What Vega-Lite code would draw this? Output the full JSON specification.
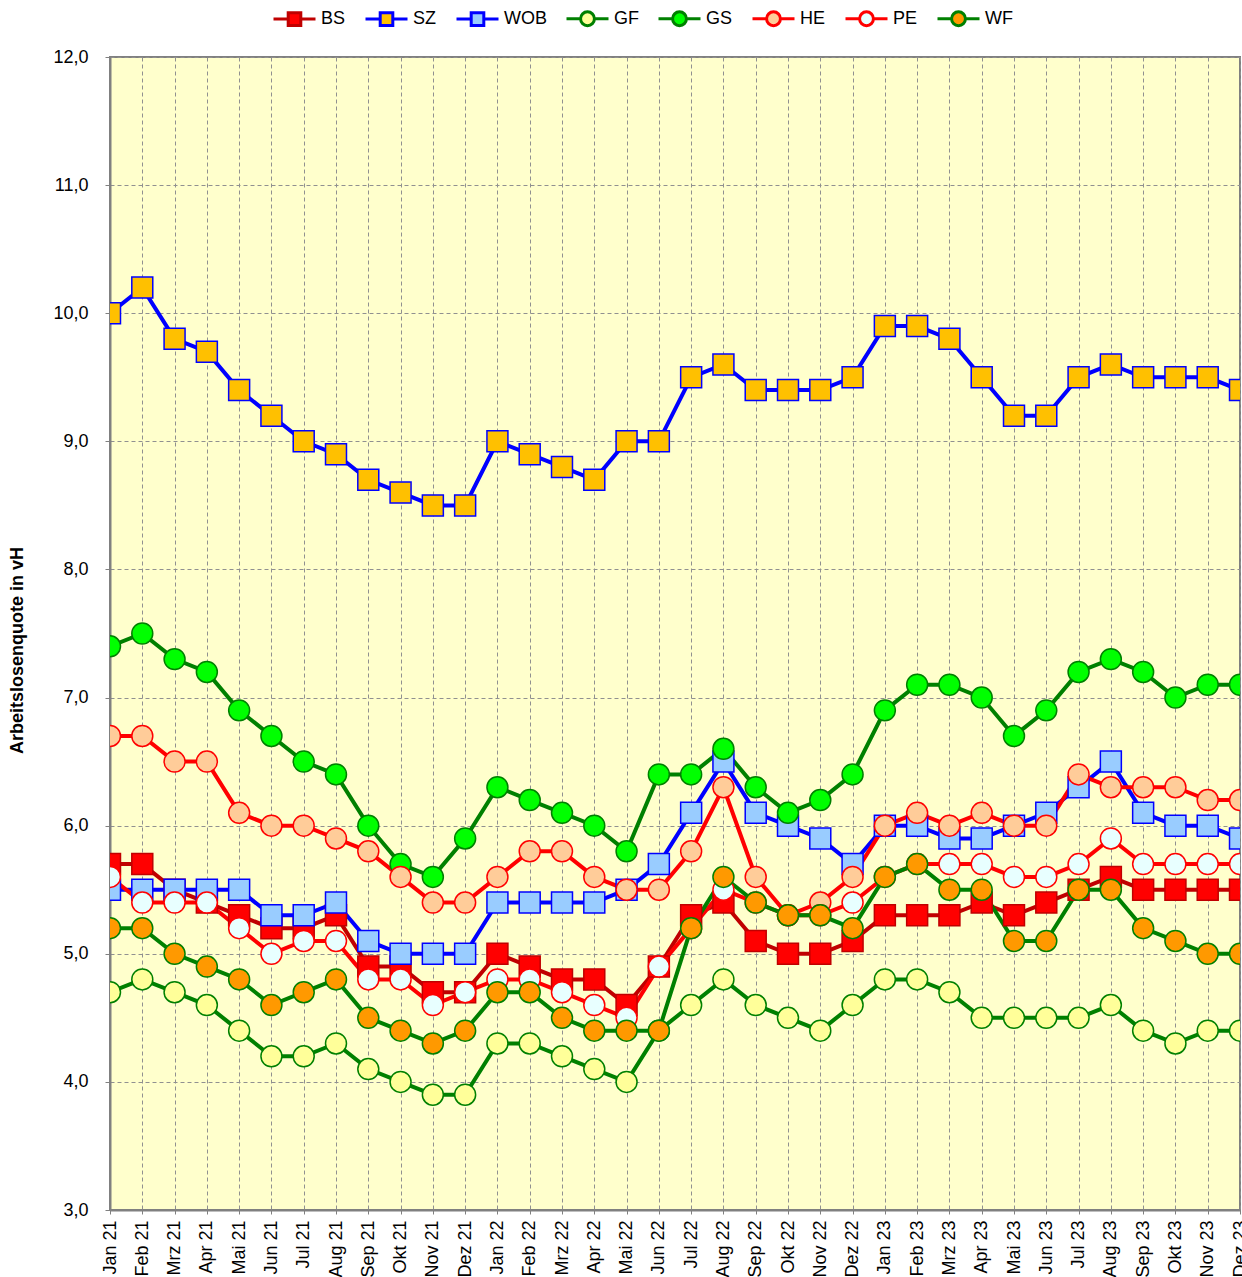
{
"$schema": "https://vega.github.io/schema/vega-lite/v6.json",
"autosize": {"type": "none"},
"width": 1130,
"height": 1153,
"padding": {"left": 110, "top": 57, "right": 2, "bottom": 67},
"background": "white",
"config": {
  "view": {"fill": "#FFFFCC", "stroke": "#808080", "strokeWidth": 2},
  "font": "Liberation Sans",
  "axis": {"labelFont": "Liberation Sans", "titleFont": "Liberation Sans", "labelColor": "black", "titleColor": "black"}
},
"datasets": {
"d": [
{"s":"BS","m":"Jan 21","v":5.7},{"s":"BS","m":"Feb 21","v":5.7},{"s":"BS","m":"Mrz 21","v":5.5},{"s":"BS","m":"Apr 21","v":5.4},{"s":"BS","m":"Mai 21","v":5.3},{"s":"BS","m":"Jun 21","v":5.2},{"s":"BS","m":"Jul 21","v":5.2},{"s":"BS","m":"Aug 21","v":5.3},{"s":"BS","m":"Sep 21","v":4.9},{"s":"BS","m":"Okt 21","v":4.9},{"s":"BS","m":"Nov 21","v":4.7},{"s":"BS","m":"Dez 21","v":4.7},
{"s":"BS","m":"Jan 22","v":5.0},{"s":"BS","m":"Feb 22","v":4.9},{"s":"BS","m":"Mrz 22","v":4.8},{"s":"BS","m":"Apr 22","v":4.8},{"s":"BS","m":"Mai 22","v":4.6},{"s":"BS","m":"Jun 22","v":4.9},{"s":"BS","m":"Jul 22","v":5.3},{"s":"BS","m":"Aug 22","v":5.4},{"s":"BS","m":"Sep 22","v":5.1},{"s":"BS","m":"Okt 22","v":5.0},{"s":"BS","m":"Nov 22","v":5.0},{"s":"BS","m":"Dez 22","v":5.1},
{"s":"BS","m":"Jan 23","v":5.3},{"s":"BS","m":"Feb 23","v":5.3},{"s":"BS","m":"Mrz 23","v":5.3},{"s":"BS","m":"Apr 23","v":5.4},{"s":"BS","m":"Mai 23","v":5.3},{"s":"BS","m":"Jun 23","v":5.4},{"s":"BS","m":"Jul 23","v":5.5},{"s":"BS","m":"Aug 23","v":5.6},{"s":"BS","m":"Sep 23","v":5.5},{"s":"BS","m":"Okt 23","v":5.5},{"s":"BS","m":"Nov 23","v":5.5},{"s":"BS","m":"Dez 23","v":5.5},
{"s":"SZ","m":"Jan 21","v":10.0},{"s":"SZ","m":"Feb 21","v":10.2},{"s":"SZ","m":"Mrz 21","v":9.8},{"s":"SZ","m":"Apr 21","v":9.7},{"s":"SZ","m":"Mai 21","v":9.4},{"s":"SZ","m":"Jun 21","v":9.2},{"s":"SZ","m":"Jul 21","v":9.0},{"s":"SZ","m":"Aug 21","v":8.9},{"s":"SZ","m":"Sep 21","v":8.7},{"s":"SZ","m":"Okt 21","v":8.6},{"s":"SZ","m":"Nov 21","v":8.5},{"s":"SZ","m":"Dez 21","v":8.5},
{"s":"SZ","m":"Jan 22","v":9.0},{"s":"SZ","m":"Feb 22","v":8.9},{"s":"SZ","m":"Mrz 22","v":8.8},{"s":"SZ","m":"Apr 22","v":8.7},{"s":"SZ","m":"Mai 22","v":9.0},{"s":"SZ","m":"Jun 22","v":9.0},{"s":"SZ","m":"Jul 22","v":9.5},{"s":"SZ","m":"Aug 22","v":9.6},{"s":"SZ","m":"Sep 22","v":9.4},{"s":"SZ","m":"Okt 22","v":9.4},{"s":"SZ","m":"Nov 22","v":9.4},{"s":"SZ","m":"Dez 22","v":9.5},
{"s":"SZ","m":"Jan 23","v":9.9},{"s":"SZ","m":"Feb 23","v":9.9},{"s":"SZ","m":"Mrz 23","v":9.8},{"s":"SZ","m":"Apr 23","v":9.5},{"s":"SZ","m":"Mai 23","v":9.2},{"s":"SZ","m":"Jun 23","v":9.2},{"s":"SZ","m":"Jul 23","v":9.5},{"s":"SZ","m":"Aug 23","v":9.6},{"s":"SZ","m":"Sep 23","v":9.5},{"s":"SZ","m":"Okt 23","v":9.5},{"s":"SZ","m":"Nov 23","v":9.5},{"s":"SZ","m":"Dez 23","v":9.4},
{"s":"WOB","m":"Jan 21","v":5.5},{"s":"WOB","m":"Feb 21","v":5.5},{"s":"WOB","m":"Mrz 21","v":5.5},{"s":"WOB","m":"Apr 21","v":5.5},{"s":"WOB","m":"Mai 21","v":5.5},{"s":"WOB","m":"Jun 21","v":5.3},{"s":"WOB","m":"Jul 21","v":5.3},{"s":"WOB","m":"Aug 21","v":5.4},{"s":"WOB","m":"Sep 21","v":5.1},{"s":"WOB","m":"Okt 21","v":5.0},{"s":"WOB","m":"Nov 21","v":5.0},{"s":"WOB","m":"Dez 21","v":5.0},
{"s":"WOB","m":"Jan 22","v":5.4},{"s":"WOB","m":"Feb 22","v":5.4},{"s":"WOB","m":"Mrz 22","v":5.4},{"s":"WOB","m":"Apr 22","v":5.4},{"s":"WOB","m":"Mai 22","v":5.5},{"s":"WOB","m":"Jun 22","v":5.7},{"s":"WOB","m":"Jul 22","v":6.1},{"s":"WOB","m":"Aug 22","v":6.5},{"s":"WOB","m":"Sep 22","v":6.1},{"s":"WOB","m":"Okt 22","v":6.0},{"s":"WOB","m":"Nov 22","v":5.9},{"s":"WOB","m":"Dez 22","v":5.7},
{"s":"WOB","m":"Jan 23","v":6.0},{"s":"WOB","m":"Feb 23","v":6.0},{"s":"WOB","m":"Mrz 23","v":5.9},{"s":"WOB","m":"Apr 23","v":5.9},{"s":"WOB","m":"Mai 23","v":6.0},{"s":"WOB","m":"Jun 23","v":6.1},{"s":"WOB","m":"Jul 23","v":6.3},{"s":"WOB","m":"Aug 23","v":6.5},{"s":"WOB","m":"Sep 23","v":6.1},{"s":"WOB","m":"Okt 23","v":6.0},{"s":"WOB","m":"Nov 23","v":6.0},{"s":"WOB","m":"Dez 23","v":5.9},
{"s":"GF","m":"Jan 21","v":4.7},{"s":"GF","m":"Feb 21","v":4.8},{"s":"GF","m":"Mrz 21","v":4.7},{"s":"GF","m":"Apr 21","v":4.6},{"s":"GF","m":"Mai 21","v":4.4},{"s":"GF","m":"Jun 21","v":4.2},{"s":"GF","m":"Jul 21","v":4.2},{"s":"GF","m":"Aug 21","v":4.3},{"s":"GF","m":"Sep 21","v":4.1},{"s":"GF","m":"Okt 21","v":4.0},{"s":"GF","m":"Nov 21","v":3.9},{"s":"GF","m":"Dez 21","v":3.9},
{"s":"GF","m":"Jan 22","v":4.3},{"s":"GF","m":"Feb 22","v":4.3},{"s":"GF","m":"Mrz 22","v":4.2},{"s":"GF","m":"Apr 22","v":4.1},{"s":"GF","m":"Mai 22","v":4.0},{"s":"GF","m":"Jun 22","v":4.4},{"s":"GF","m":"Jul 22","v":4.6},{"s":"GF","m":"Aug 22","v":4.8},{"s":"GF","m":"Sep 22","v":4.6},{"s":"GF","m":"Okt 22","v":4.5},{"s":"GF","m":"Nov 22","v":4.4},{"s":"GF","m":"Dez 22","v":4.6},
{"s":"GF","m":"Jan 23","v":4.8},{"s":"GF","m":"Feb 23","v":4.8},{"s":"GF","m":"Mrz 23","v":4.7},{"s":"GF","m":"Apr 23","v":4.5},{"s":"GF","m":"Mai 23","v":4.5},{"s":"GF","m":"Jun 23","v":4.5},{"s":"GF","m":"Jul 23","v":4.5},{"s":"GF","m":"Aug 23","v":4.6},{"s":"GF","m":"Sep 23","v":4.4},{"s":"GF","m":"Okt 23","v":4.3},{"s":"GF","m":"Nov 23","v":4.4},{"s":"GF","m":"Dez 23","v":4.4},
{"s":"GS","m":"Jan 21","v":7.4},{"s":"GS","m":"Feb 21","v":7.5},{"s":"GS","m":"Mrz 21","v":7.3},{"s":"GS","m":"Apr 21","v":7.2},{"s":"GS","m":"Mai 21","v":6.9},{"s":"GS","m":"Jun 21","v":6.7},{"s":"GS","m":"Jul 21","v":6.5},{"s":"GS","m":"Aug 21","v":6.4},{"s":"GS","m":"Sep 21","v":6.0},{"s":"GS","m":"Okt 21","v":5.7},{"s":"GS","m":"Nov 21","v":5.6},{"s":"GS","m":"Dez 21","v":5.9},
{"s":"GS","m":"Jan 22","v":6.3},{"s":"GS","m":"Feb 22","v":6.2},{"s":"GS","m":"Mrz 22","v":6.1},{"s":"GS","m":"Apr 22","v":6.0},{"s":"GS","m":"Mai 22","v":5.8},{"s":"GS","m":"Jun 22","v":6.4},{"s":"GS","m":"Jul 22","v":6.4},{"s":"GS","m":"Aug 22","v":6.6},{"s":"GS","m":"Sep 22","v":6.3},{"s":"GS","m":"Okt 22","v":6.1},{"s":"GS","m":"Nov 22","v":6.2},{"s":"GS","m":"Dez 22","v":6.4},
{"s":"GS","m":"Jan 23","v":6.9},{"s":"GS","m":"Feb 23","v":7.1},{"s":"GS","m":"Mrz 23","v":7.1},{"s":"GS","m":"Apr 23","v":7.0},{"s":"GS","m":"Mai 23","v":6.7},{"s":"GS","m":"Jun 23","v":6.9},{"s":"GS","m":"Jul 23","v":7.2},{"s":"GS","m":"Aug 23","v":7.3},{"s":"GS","m":"Sep 23","v":7.2},{"s":"GS","m":"Okt 23","v":7.0},{"s":"GS","m":"Nov 23","v":7.1},{"s":"GS","m":"Dez 23","v":7.1},
{"s":"HE","m":"Jan 21","v":6.7},{"s":"HE","m":"Feb 21","v":6.7},{"s":"HE","m":"Mrz 21","v":6.5},{"s":"HE","m":"Apr 21","v":6.5},{"s":"HE","m":"Mai 21","v":6.1},{"s":"HE","m":"Jun 21","v":6.0},{"s":"HE","m":"Jul 21","v":6.0},{"s":"HE","m":"Aug 21","v":5.9},{"s":"HE","m":"Sep 21","v":5.8},{"s":"HE","m":"Okt 21","v":5.6},{"s":"HE","m":"Nov 21","v":5.4},{"s":"HE","m":"Dez 21","v":5.4},
{"s":"HE","m":"Jan 22","v":5.6},{"s":"HE","m":"Feb 22","v":5.8},{"s":"HE","m":"Mrz 22","v":5.8},{"s":"HE","m":"Apr 22","v":5.6},{"s":"HE","m":"Mai 22","v":5.5},{"s":"HE","m":"Jun 22","v":5.5},{"s":"HE","m":"Jul 22","v":5.8},{"s":"HE","m":"Aug 22","v":6.3},{"s":"HE","m":"Sep 22","v":5.6},{"s":"HE","m":"Okt 22","v":5.3},{"s":"HE","m":"Nov 22","v":5.4},{"s":"HE","m":"Dez 22","v":5.6},
{"s":"HE","m":"Jan 23","v":6.0},{"s":"HE","m":"Feb 23","v":6.1},{"s":"HE","m":"Mrz 23","v":6.0},{"s":"HE","m":"Apr 23","v":6.1},{"s":"HE","m":"Mai 23","v":6.0},{"s":"HE","m":"Jun 23","v":6.0},{"s":"HE","m":"Jul 23","v":6.4},{"s":"HE","m":"Aug 23","v":6.3},{"s":"HE","m":"Sep 23","v":6.3},{"s":"HE","m":"Okt 23","v":6.3},{"s":"HE","m":"Nov 23","v":6.2},{"s":"HE","m":"Dez 23","v":6.2},
{"s":"PE","m":"Jan 21","v":5.6},{"s":"PE","m":"Feb 21","v":5.4},{"s":"PE","m":"Mrz 21","v":5.4},{"s":"PE","m":"Apr 21","v":5.4},{"s":"PE","m":"Mai 21","v":5.2},{"s":"PE","m":"Jun 21","v":5.0},{"s":"PE","m":"Jul 21","v":5.1},{"s":"PE","m":"Aug 21","v":5.1},{"s":"PE","m":"Sep 21","v":4.8},{"s":"PE","m":"Okt 21","v":4.8},{"s":"PE","m":"Nov 21","v":4.6},{"s":"PE","m":"Dez 21","v":4.7},
{"s":"PE","m":"Jan 22","v":4.8},{"s":"PE","m":"Feb 22","v":4.8},{"s":"PE","m":"Mrz 22","v":4.7},{"s":"PE","m":"Apr 22","v":4.6},{"s":"PE","m":"Mai 22","v":4.5},{"s":"PE","m":"Jun 22","v":4.9},{"s":"PE","m":"Jul 22","v":5.2},{"s":"PE","m":"Aug 22","v":5.5},{"s":"PE","m":"Sep 22","v":5.4},{"s":"PE","m":"Okt 22","v":5.3},{"s":"PE","m":"Nov 22","v":5.3},{"s":"PE","m":"Dez 22","v":5.4},
{"s":"PE","m":"Jan 23","v":5.6},{"s":"PE","m":"Feb 23","v":5.7},{"s":"PE","m":"Mrz 23","v":5.7},{"s":"PE","m":"Apr 23","v":5.7},{"s":"PE","m":"Mai 23","v":5.6},{"s":"PE","m":"Jun 23","v":5.6},{"s":"PE","m":"Jul 23","v":5.7},{"s":"PE","m":"Aug 23","v":5.9},{"s":"PE","m":"Sep 23","v":5.7},{"s":"PE","m":"Okt 23","v":5.7},{"s":"PE","m":"Nov 23","v":5.7},{"s":"PE","m":"Dez 23","v":5.7},
{"s":"WF","m":"Jan 21","v":5.2},{"s":"WF","m":"Feb 21","v":5.2},{"s":"WF","m":"Mrz 21","v":5.0},{"s":"WF","m":"Apr 21","v":4.9},{"s":"WF","m":"Mai 21","v":4.8},{"s":"WF","m":"Jun 21","v":4.6},{"s":"WF","m":"Jul 21","v":4.7},{"s":"WF","m":"Aug 21","v":4.8},{"s":"WF","m":"Sep 21","v":4.5},{"s":"WF","m":"Okt 21","v":4.4},{"s":"WF","m":"Nov 21","v":4.3},{"s":"WF","m":"Dez 21","v":4.4},
{"s":"WF","m":"Jan 22","v":4.7},{"s":"WF","m":"Feb 22","v":4.7},{"s":"WF","m":"Mrz 22","v":4.5},{"s":"WF","m":"Apr 22","v":4.4},{"s":"WF","m":"Mai 22","v":4.4},{"s":"WF","m":"Jun 22","v":4.4},{"s":"WF","m":"Jul 22","v":5.2},{"s":"WF","m":"Aug 22","v":5.6},{"s":"WF","m":"Sep 22","v":5.4},{"s":"WF","m":"Okt 22","v":5.3},{"s":"WF","m":"Nov 22","v":5.3},{"s":"WF","m":"Dez 22","v":5.2},
{"s":"WF","m":"Jan 23","v":5.6},{"s":"WF","m":"Feb 23","v":5.7},{"s":"WF","m":"Mrz 23","v":5.5},{"s":"WF","m":"Apr 23","v":5.5},{"s":"WF","m":"Mai 23","v":5.1},{"s":"WF","m":"Jun 23","v":5.1},{"s":"WF","m":"Jul 23","v":5.5},{"s":"WF","m":"Aug 23","v":5.5},{"s":"WF","m":"Sep 23","v":5.2},{"s":"WF","m":"Okt 23","v":5.1},{"s":"WF","m":"Nov 23","v":5.0},{"s":"WF","m":"Dez 23","v":5.0}
]
},
"data": {"name": "d"},
"encoding": {
  "x": {
    "field": "m", "type": "ordinal",
    "sort": ["Jan 21","Feb 21","Mrz 21","Apr 21","Mai 21","Jun 21","Jul 21","Aug 21","Sep 21","Okt 21","Nov 21","Dez 21","Jan 22","Feb 22","Mrz 22","Apr 22","Mai 22","Jun 22","Jul 22","Aug 22","Sep 22","Okt 22","Nov 22","Dez 22","Jan 23","Feb 23","Mrz 23","Apr 23","Mai 23","Jun 23","Jul 23","Aug 23","Sep 23","Okt 23","Nov 23","Dez 23"],
    "scale": {"type": "point", "padding": 0},
    "axis": {
      "title": null, "labelAngle": -90, "labelFontSize": 18, "labelPadding": 6,
      "tickSize": 4, "tickColor": "#808080", "domainColor": "#808080", "domainWidth": 2,
      "grid": true, "gridDash": [4, 3], "gridColor": "#909090", "gridWidth": 1,
      "labelOverlap": false, "labelBound": false, "labelFlush": false
    }
  },
  "y": {
    "field": "v", "type": "quantitative",
    "scale": {"domain": [3, 12], "nice": false, "zero": false},
    "axis": {
      "title": "Arbeitslosenquote in vH", "titleFontSize": 18, "titleFontWeight": "bold",
      "titleX": -84, "titleY": 593,
      "values": [3,4,5,6,7,8,9,10,11,12],
      "labelExpr": "replace(format(datum.value, '.1f'), '.', ',')",
      "labelFontSize": 18, "labelPadding": 17, "tickSize": 5,
      "tickColor": "#808080", "domainColor": "#808080", "domainWidth": 2,
      "grid": true, "gridDash": [4, 3], "gridColor": "#909090", "gridWidth": 1
    }
  }
},
"layer": [
  {
    "mark": {"type": "line", "strokeWidth": 4, "clip": true},
    "encoding": {
      "stroke": {"field": "s", "type": "nominal",
        "scale": {"domain": ["BS","SZ","WOB","GF","GS","HE","PE","WF"], "range": ["#C00000","#0000FF","#0000FF","#008000","#008000","#FF0000","#FF0000","#008000"]},
        "legend": {
          "title": null, "orient": "none", "legendX": 162, "legendY": -61,
          "direction": "horizontal", "columns": 8, "symbolSize": 1764,
          "labelFontSize": 18, "labelOffset": 4, "columnPadding": 13,
          "labelFont": "Liberation Sans", "labelColor": "black",
          "encode": {"symbols": {"update": {
            "shape": {"signal": "indexof(['BS','SZ','WOB'], datum.value) >= 0 ? 'M-1,0H-0.3M0.3,0H1M-0.3,-0.3H0.3V0.3H-0.3Z' : 'M-1,0H-0.33M0.33,0H1M-0.33,0A0.33,0.33 0 1,0 0.33,0A0.33,0.33 0 1,0 -0.33,0Z'"},
            "size": {"value": 1764},
            "strokeWidth": {"value": 3},
            "fill": {"scale": "fill", "field": "value"},
            "opacity": {"value": 1}
          }}}
        }}
    }
  },
  {
    "transform": [{"filter": "indexof(['BS','SZ','WOB'], datum.s) >= 0"}],
    "mark": {"type": "point", "shape": "square", "filled": true, "opacity": 1, "size": 440, "strokeWidth": 1.5, "clip": true},
    "encoding": {
      "stroke": {"field": "s", "type": "nominal", "legend": null},
      "fill": {"field": "s", "type": "nominal", "legend": null,
        "scale": {"domain": ["BS","SZ","WOB","GF","GS","HE","PE","WF"], "range": ["#FF0000","#FFC000","#99CCFF","#FFFF99","#00FF00","#FFCC99","#E8FFFF","#FF9900"]}}
    }
  },
  {
    "transform": [{"filter": "indexof(['BS','SZ','WOB'], datum.s) < 0"}],
    "mark": {"type": "point", "shape": "circle", "filled": true, "opacity": 1, "size": 440, "strokeWidth": 1.5, "clip": true},
    "encoding": {
      "stroke": {"field": "s", "type": "nominal", "legend": null},
      "fill": {"field": "s", "type": "nominal", "legend": null}
    }
  }
]
}
